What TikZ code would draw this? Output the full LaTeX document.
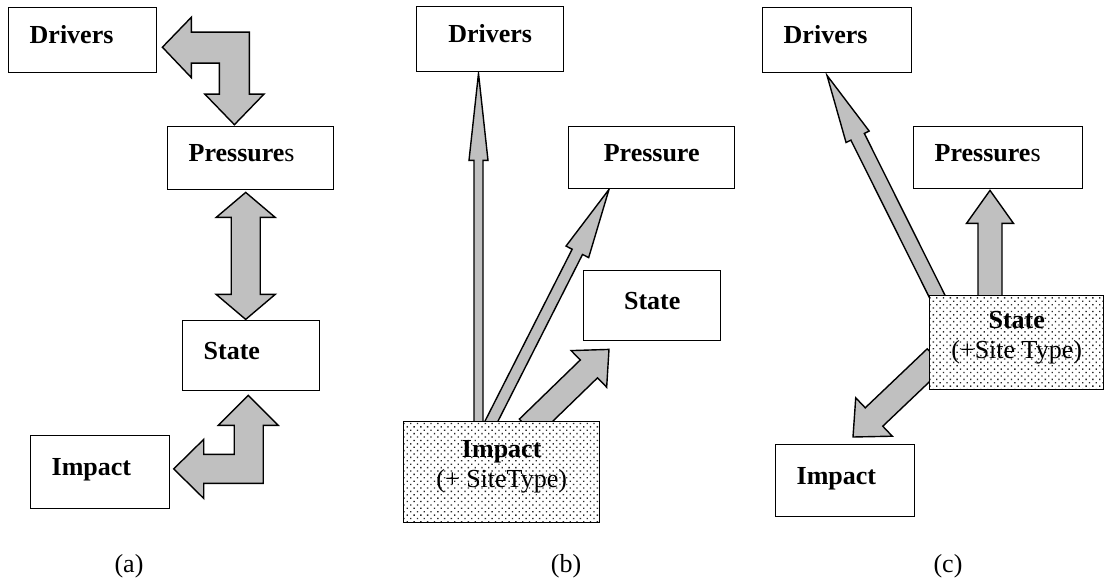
\documentclass[tikz,border=0pt]{standalone}
\usepackage{fontspec}
\setmainfont{Liberation Serif}
\usetikzlibrary{calc,patterns.meta,backgrounds}
\definecolor{arrowgray}{RGB}{192,192,192}

% straight block arrow: tail, tip, shaft half width, head half width, head length
\newcommand{\blockarrow}[5]{%
  \path ($(#2)!#5!(#1)$) coordinate (hb);
  \draw[barrow] ($(#1)!#3!90:(#2)$) -- ($(hb)!#3!90:(#2)$) -- ($(hb)!#4!90:(#2)$) -- (#2)
    -- ($(hb)!#4!-90:(#2)$) -- ($(hb)!#3!-90:(#2)$) -- ($(#1)!#3!-90:(#2)$) -- cycle;
}

\begin{document}
\begin{tikzpicture}[x=1pt, y=-1pt,
    boxbase/.style={draw, line width=1.4pt, fill=white, anchor=north west, inner ysep=0pt,
      font=\fontsize{26}{30}\selectfont},
    box/.style={boxbase, inner xsep=21pt, align=left, text height=19pt, text depth=12pt},
    cbox/.style={boxbase, inner xsep=0pt, align=center, text height=19pt, text depth=12pt},
    dotbox/.style={boxbase, inner xsep=0pt, align=center, text depth=16pt, preaction={fill=white},
      pattern={Dots[distance=4.8pt, radius=0.95pt, angle=45]}, pattern color=black!85},
    barrow/.style={draw, line width=1.4pt, fill=arrowgray, line join=miter},
    caplabel/.style={font=\fontsize{26}{30}\selectfont}]
  \useasboundingbox (0,0) rectangle (1104,583);

  % (a)
  \node[box, text width=106pt, minimum height=65pt] (drvA) at (8,7) {\textbf{Drivers}};
  \node[box, text width=124pt, minimum height=63pt] (preA) at (167,126) {\textbf{Pressure}s};
  \node[box, text width=95pt, minimum height=70pt] (staA) at (182,320) {\textbf{State}};
  \node[box, text width=97pt, minimum height=73pt] (impA) at (30,435) {\textbf{Impact}};
  \node[caplabel] (capA) at (129,566) {(a)};

  % (b)
  \node[cbox, minimum width=147pt, minimum height=65pt] (drvB) at (416,6) {\textbf{Drivers}};
  \node[cbox, minimum width=166pt, minimum height=62pt] (preB) at (568,126) {\textbf{Pressure}};
  \node[cbox, minimum width=137pt, minimum height=70pt] (staB) at (583,270) {\textbf{State}};
  \node[dotbox, minimum width=196pt, minimum height=101pt] (impB) at (403,421) {\textbf{Impact}\\(+ SiteType)};
  \node[caplabel] (capB) at (566,566) {(b)};

  % (c)
  \node[box, text width=107pt, minimum height=65pt] (drvC) at (762,7) {\textbf{Drivers}};
  \node[box, text width=127pt, minimum height=62pt] (preC) at (913,126) {\textbf{Pressure}s};
  \node[dotbox, minimum width=174pt, minimum height=94pt] (staC) at (929,295) {\textbf{State}\\(+Site Type)};
  \node[box, text width=97pt, minimum height=72pt] (impC) at (775,444) {\textbf{Impact}};
  \node[caplabel] (capC) at (948,566) {(c)};

  \coordinate (tailB1) at ($(impB.north west)+(75.5,9)$);
  \coordinate (tipB1) at ($(drvB.south west)+(62.5,1)$);
  \coordinate (tailB2) at ($(impB.north west)+(84,9)$);
  \coordinate (tipB2) at ($(preB.south west)+(41,0)$);
  \coordinate (tailB3) at ($(impB.north west)+(125,7)$);
  \coordinate (tipB3) at ($(staB.south west)+(26,8)$);
  \coordinate (tailC1) at ($(staC.north west)+(12,9)$);
  \coordinate (tipC1) at ($(drvC.south west)+(65,2)$);
  \coordinate (tailC2) at ($(staC.north west)+(61,10)$);
  \coordinate (tipC2) at ($(preC.south west)+(77,1)$);
  \coordinate (tailC3) at ($(staC.north west)+(7,63)$);
  \coordinate (tipC3) at ($(impC.north west)+(78,-7)$);

  \begin{scope}[on background layer]
    \draw[barrow] ($(drvA.east)+(5,7)$) -- ++(29,-30) -- ++(0,15) -- ++(58,0) -- ++(0,62)
      -- ++(14.5,0) -- ++(-29.5,30.5) -- ++(-29.5,-30.5) -- ++(14.5,0) -- ++(0,-31)
      -- ++(-28,0) -- ++(0,14.5) -- cycle;
    \draw[barrow] ($(preA.south)+(-5,2)$) -- ++(29.5,25) -- ++(-15,0) -- ++(0,77) -- ++(15,0)
      -- ++(-29.5,25) -- ++(-29.5,-25) -- ++(15,0) -- ++(0,-77) -- ++(-15,0) -- cycle;
    \draw[barrow] ($(staA.south)+(-3,4)$) -- ++(30,30) -- ++(-15,0) -- ++(0,58) -- ++(-59.5,0)
      -- ++(0,15) -- ++(-30,-29.5) -- ++(30,-29.5) -- ++(0,15) -- ++(30.5,0) -- ++(0,-29)
      -- ++(-16,0) -- cycle;

    \blockarrow{tailB1}{tipB1}{4.5pt}{9.5pt}{87pt}
    \blockarrow{tailB2}{tipB2}{5.8pt}{12.7pt}{70pt}
    \blockarrow{tailB3}{tipB3}{12.4pt}{25.5pt}{28pt}
    \blockarrow{tailC1}{tipC1}{7.5pt}{12.9pt}{68.6pt}
    \blockarrow{tailC2}{tipC2}{12pt}{23.5pt}{33pt}
    \blockarrow{tailC3}{tipC3}{12.7pt}{26.5pt}{29pt}
  \end{scope}
\end{tikzpicture}
\end{document}
